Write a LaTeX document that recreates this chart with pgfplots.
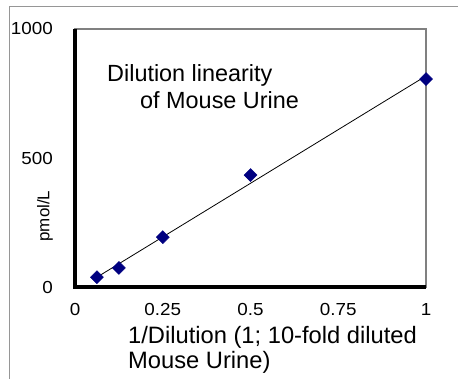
\documentclass[border=0pt]{standalone}
\usepackage{pgfplots}
\pgfplotsset{compat=1.18}
\usepackage{fontspec}
\setmainfont{Liberation Sans}
\newfontfamily\tickfont{Liberation Sans}[FakeStretch=1.08]
\definecolor{navymark}{RGB}{0,0,128}
\definecolor{framegray}{RGB}{128,128,128}
\definecolor{outergray}{RGB}{150,150,150}
\begin{document}
\begin{tikzpicture}[x=1bp,y=1bp]
\useasboundingbox (0,0) rectangle (458,378);
\draw[outergray, line width=1bp] (9,-5) -- (9,371) -- (470,371);
\begin{axis}[
  at={(75bp,91bp)}, anchor=south west,
  scale only axis, width=351bp, height=258bp,
  xmin=0, xmax=1, ymin=0, ymax=1000,
  clip=false,
  xtick={0,0.25,0.5,0.75,1}, xticklabels={0,0.25,0.5,0.75,1},
  ytick={0,500,1000}, yticklabels={0,500,1000},
  major tick length=0pt,
  axis line style={framegray, line width=2bp},
  tick label style={font=\tickfont\fontsize{17.5}{18}\selectfont},
  /pgf/number format/assume math mode=true,
  yticklabel style={anchor=east, inner sep=0pt, xshift=-22bp},
  xticklabel style={anchor=north, inner sep=0pt, yshift=-16bp},
]
\draw[black, line width=4.5bp] (rel axis cs:0,1) -- (rel axis cs:0,0) -- (rel axis cs:1,0);
\addplot[black, line width=0.8bp, no marks] coordinates {(0.0625,38) (1,818)};
\addplot[only marks, color=navymark, mark=square*, mark size=4.6bp,
  mark options={rotate=45, fill=navymark, draw=navymark}]
  coordinates {(0.0625,38) (0.125,74) (0.25,193) (0.5,434) (1,806)};
\end{axis}
\node[anchor=base west, inner sep=0pt, font=\fontsize{23.5}{24}\selectfont] at (107,296.3) {Dilution linearity};
\node[anchor=base west, inner sep=0pt, font=\fontsize{23.5}{24}\selectfont] at (140,270) {of Mouse Urine};
\node[anchor=base west, inner sep=0pt, font=\fontsize{23.8}{24}\selectfont] at (128,35) {1/Dilution (1; 10-fold diluted};
\node[anchor=base west, inner sep=0pt, font=\fontsize{23.8}{24}\selectfont] at (128,10) {Mouse Urine)};
\node[rotate=90, inner sep=0pt, font=\fontsize{17}{17}\selectfont] at (45,162) {pmol/L};
\end{tikzpicture}
\end{document}
